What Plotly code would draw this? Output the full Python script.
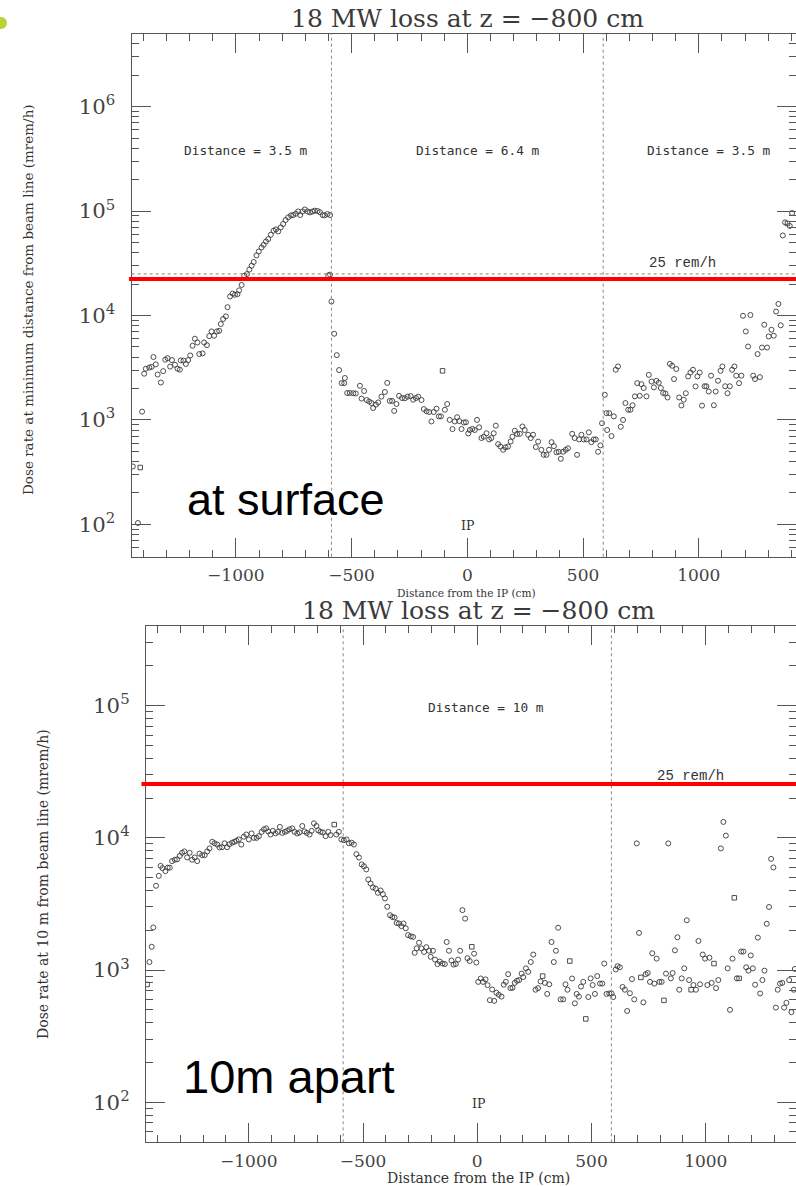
import plotly.graph_objects as go

# ---------------- data ----------------
top_x = [-1445,-1423,-1405,-1396,-1389,-1374,-1364,-1356,-1346,-1338,-1324,-1314,-1305,-1295,-1284,-1276,-1263,-1252,-1242,-1238,
         -1226,-1216,-1206,-1197,-1187,-1177,-1166,-1158,-1144,-1137,-1125,-1115,-1105,-1094,-1082,-1072,-1065,-1055,-1043,-1036,
         -1025,-1014,-1004,-993,-986,-975,-964,-952,-942,-932,-923,-911,-901,-889,-880,-870,-860,-849,-837,-827,
         -817,-806,-796,-785,-774,-762,-752,-741,-731,-722,-712,-702,-690,-680,-669,-659,-647,-637,-625,-616,
         -604,-593,-601,-593,-587,-575,-564,-554,-543,-532,-529,-519,-508,-493,-482,-464,-457,-446,-435,-424,
         -414,-407,-395,-385,-371,-356,-346,-335,-325,-316,-306,-295,-282,-270,-258,-245,-234,-222,-212,-198,
         -188,-176,-165,-155,-145,-133,-123,-114,-97,-87,-76,-64,-54,-44,-35,-25,-15,-6,4,11,
         22,32,42,51,61,71,83,94,104,114,123,133,143,155,165,176,187,195,205,215,
         227,238,248,263,274,284,296,306,320,330,342,353,364,374,385,395,404,414,425,435,
         453,464,474,483,493,503,515,525,536,546,555,565,575,582,594,601,604,613,623,633,
         641,651,663,673,683,695,705,714,724,734,745,752,762,774,784,796,806,817,827,836,
         846,856,865,875,885,893,903,915,925,935,944,954,964,975,986,994,1004,1014,1025,1033,
         1043,1053,1065,1073,1083,1094,1102,1114,1124,1134,1144,1154,1162,1174,1184,1191,1203,1213,1223,1235,
         1243,1254,1264,1273,1283,1295,1302,1314,1324,1334,1344,1354,1363,1373,1393,1403]
top_y = [358,103,1200,2770,3090,3170,3220,4000,3400,2720,2280,2930,3770,3900,3240,3740,3370,3090,3030,3710,
         3700,3430,3740,4140,5130,5990,5510,4270,4330,5510,5200,6340,7030,6390,7030,7130,8280,9250,9800,12000,
         15200,16200,15800,16000,17400,19600,24000,24900,27500,29900,32500,37600,41000,44800,47500,51100,53900,59300,64800,66700,
         63800,69700,75100,82000,87000,90800,91500,94200,99100,91500,99000,103500,99000,97000,99000,100800,100000,97500,91500,90800,
         93600,91500,24200,24600,13600,6680,4170,3000,2250,2250,2520,1810,1810,1800,1790,2120,1600,1890,1550,1500,
         1450,1300,1400,1470,1670,1850,2260,1520,1520,1220,1420,1700,1620,1610,1670,1690,1560,1620,1670,1550,
         1270,1210,1190,966,1190,1280,1080,1080,1250,1420,1000,817,966,1060,975,817,944,950,742,800,
         820,800,1000,850,670,690,745,650,670,745,880,586,556,517,545,556,621,690,787,734,
         735,865,800,720,670,720,550,620,517,463,463,517,612,560,490,495,424,495,517,535,
         736,670,463,650,720,650,650,760,612,650,650,495,570,930,1740,1160,800,1160,700,1080,
         3020,3250,860,1000,1450,1250,1250,1380,1680,2250,1700,2200,2020,1680,2700,2330,2050,2370,2270,2020,
         1810,1790,1640,3440,3300,2460,3070,1640,1375,1560,1800,2610,2840,3020,2090,2610,2840,1370,2100,2100,
         1870,2650,1380,1870,2370,2950,3250,2100,1800,2100,3020,3250,2650,2250,2650,9930,7030,5040,10100,2650,
         2460,4270,2570,4930,8150,4930,6300,7300,6400,10900,12900,8050,58400,77900,72000,95700]
top_sq_x = [-1413, -107, 1383]
top_sq_y = [350, 2950, 76000]

bot_x = [-1435,-1425,-1418,-1406,-1394,-1386,-1378,-1365,-1355,-1346,-1336,-1324,-1314,-1302,-1292,-1282,-1270,-1259,-1248,-1237,
         -1226,-1216,-1204,-1193,-1182,-1172,-1160,-1150,-1138,-1128,-1117,-1106,-1095,-1085,-1073,-1063,-1054,-1044,-1033,-1022,
         -1011,-1000,-988,-978,-966,-956,-944,-934,-924,-915,-905,-895,-883,-873,-864,-854,-842,-832,-822,-810,
         -800,-788,-778,-766,-756,-746,-734,-725,-715,-704,-696,-686,-676,-664,-652,-642,-617,-606,-595,-584,
         -572,-562,-550,-540,-529,-518,-506,-496,-486,-477,-467,-457,-445,-435,-423,-413,-404,-394,-382,-372,
         -362,-353,-343,-332,-323,-313,-303,-291,-281,-274,-265,-255,-245,-233,-223,-211,-204,-194,-185,-174,
         -164,-152,-142,-134,-124,-113,-104,-94,-84,-75,-65,-53,-43,-33,-14,-4,4,15,25,36,
         45,55,65,74,84,94,106,116,125,135,145,154,164,174,183,194,201,213,223,234,
         245,255,266,277,296,306,315,325,335,344,354,365,376,386,395,415,427,435,445,454,
         464,486,496,505,515,525,537,547,556,566,578,588,595,606,614,624,636,646,656,668,
         677,687,698,708,727,737,746,756,766,775,785,797,807,826,836,847,855,865,876,884,
         895,906,917,927,946,957,968,975,987,997,1007,1016,1026,1045,1055,1066,1077,1088,1096,1106,
         1117,1136,1155,1165,1177,1187,1197,1206,1216,1228,1238,1248,1257,1267,1277,1286,1296,1307,1315,1325,
         1335,1343,1353,1365,1375,1385,1390]
bot_y = [1150,1500,2100,4340,5160,6140,5900,5600,5950,5950,6670,6830,6880,7310,7710,7900,7110,7710,6830,7110,
         6670,7600,7400,7400,7900,8320,9340,9100,8900,8460,8500,9100,8500,8950,9200,9340,9500,9730,8900,10200,
         10600,9730,10800,10000,10000,10300,11100,11600,11800,11200,10600,11300,10800,11100,12100,10900,11100,11300,11600,11800,
         11100,10800,11000,12300,11200,10900,10600,11300,12900,12300,11400,11100,11000,10300,11100,10500,10600,11100,9730,9600,
         9730,9100,9200,8900,7530,7100,6300,6100,5770,4840,4520,4220,4130,3840,4000,3750,3480,3010,2600,2520,
         2500,2270,2250,2150,2250,2070,1840,1800,1780,1350,1460,1610,1460,1370,1490,1400,1260,1400,1200,1110,
         1160,1120,1110,1630,1400,1180,1100,1110,1200,1400,2840,2450,1230,1170,1330,1140,814,863,814,850,
         769,592,713,585,673,650,630,775,814,931,730,735,800,830,840,940,885,1030,970,1150,
         1310,710,730,820,800,660,780,1630,1150,1400,2090,600,600,780,710,863,560,660,630,750,
         814,625,865,770,660,900,790,790,1120,660,665,665,625,1010,1070,1050,745,710,490,668,
         855,600,9080,1910,570,930,950,814,1340,790,1220,814,814,940,9080,865,950,1410,1770,710,
         865,1030,2380,840,770,710,1660,780,1310,1220,770,1240,800,730,840,8320,13200,10400,1030,500,
         1220,865,1380,1380,1050,990,1290,1030,775,1760,665,840,990,2240,3000,6930,5970,520,710,790,
         800,520,565,840,480,710,1020]
bot_sq_x = [-1445, -626, -24, 286, 405, 475, 716, 817, 936, 1036, 1125, 1146]
bot_sq_y = [778, 12600, 1500, 900, 1170, 427, 880, 590, 710, 1120, 3520, 865]

region_edges = [-587, 587]          # dotted separators (cm)
limit_dose = 25000                  # 25 rem/h in mrem/h
red_top = 22400                     # red threshold line, top panel
red_bot = 25500                     # red threshold line, bottom panel
x_range = [-1450, 1420]
x_range_bot = [-1450, 1395]
y_range_top = [1.69, 6.70]          # log10
y_range_bot = [1.697, 5.605]        # log10

# ---------------- layout helpers ----------------
W, H = 796, 1187
def PX(x): return x / W
def PY(y): return 1 - y / H

MARK = "#3a3a3a"
AX = "#555555"
SERIF = "DejaVu Serif"
MONO = "DejaVu Sans Mono"

fig = go.Figure()
mk_c = dict(symbol="circle-open", size=5, color=MARK, line=dict(width=0.9, color=MARK))
mk_s = dict(symbol="square-open", size=4.5, color=MARK, line=dict(width=0.9, color=MARK))
fig.add_trace(go.Scatter(x=top_x, y=top_y, mode="markers", marker=mk_c, xaxis="x", yaxis="y", showlegend=False))
fig.add_trace(go.Scatter(x=top_sq_x, y=top_sq_y, mode="markers", marker=mk_s, xaxis="x", yaxis="y", showlegend=False))
fig.add_trace(go.Scatter(x=bot_x, y=bot_y, mode="markers", marker=mk_c, xaxis="x2", yaxis="y2", showlegend=False))
fig.add_trace(go.Scatter(x=bot_sq_x, y=bot_sq_y, mode="markers", marker=mk_s, xaxis="x2", yaxis="y2", showlegend=False))

def xaxis(domain, rng, anchor):
    return dict(domain=domain, range=rng, anchor=anchor, showgrid=False, zeroline=False,
                showline=True, linecolor=AX, linewidth=1, mirror="ticks",
                ticks="inside", ticklen=19, tickwidth=1, tickcolor=AX,
                tickmode="linear", tick0=0, dtick=500,
                minor=dict(ticks="inside", ticklen=7, tickwidth=1, tickcolor=AX, dtick=100, showgrid=False),
                tickfont=dict(family=SERIF, size=17, color="#444"), ticklabelstandoff=3)

def yaxis(domain, rng, anchor):
    return dict(domain=domain, range=rng, anchor=anchor, type="log", showgrid=False, zeroline=False,
                showline=True, linecolor=AX, linewidth=1, mirror="ticks",
                ticks="inside", ticklen=19, tickwidth=1, tickcolor=AX,
                dtick=1, exponentformat="power",
                minor=dict(ticks="inside", ticklen=7, tickwidth=1, tickcolor=AX, dtick="D1", showgrid=False),
                tickfont=dict(family=SERIF, size=17, color="#444"), ticklabelstandoff=12)

top_xd = [PX(131.7), 1.0]
top_yd = [PY(556.7), PY(33.5)]
bot_xd = [PX(146), 1.0]
bot_yd = [PY(1142.3), PY(625.7)]

fig.update_layout(
    width=W, height=H, margin=dict(l=0, r=0, t=0, b=0),
    paper_bgcolor="white", plot_bgcolor="white",
    xaxis=xaxis(top_xd, x_range, "y"),
    yaxis=yaxis(top_yd, y_range_top, "x"),
    xaxis2=xaxis(bot_xd, x_range_bot, "y2"),
    yaxis2=yaxis(bot_yd, y_range_bot, "x2"),
)

shapes = []
for xr, yr in (("x", "y"), ("x2", "y2")):
    for xe in region_edges:
        shapes.append(dict(type="line", xref=xr, yref=yr + " domain", x0=xe, x1=xe, y0=0, y1=1,
                           line=dict(color="#888", width=1, dash="dot")))
    shapes.append(dict(type="line", xref=xr + " domain", yref=yr, x0=0, x1=1, y0=limit_dose, y1=limit_dose,
                       line=dict(color="#888", width=1, dash="dot")))
shapes.append(dict(type="line", xref="paper", yref="y", x0=PX(129), x1=1, y0=red_top, y1=red_top,
                   line=dict(color="#ff0000", width=4)))
shapes.append(dict(type="line", xref="paper", yref="y2", x0=PX(141.5), x1=1, y0=red_bot, y1=red_bot,
                   line=dict(color="#ff0000", width=4)))
# slide bullet remnant
shapes.append(dict(type="circle", xref="paper", yref="paper", x0=PX(-5), x1=PX(7), y0=PY(29), y1=PY(17),
                   fillcolor="#b8d433", line=dict(width=0)))
fig.update_layout(shapes=shapes)

def ann(text, x, y, size, family, color="#333", angle=0):
    return dict(text=text, x=PX(x), y=PY(y), xref="paper", yref="paper", showarrow=False,
                xanchor="center", yanchor="middle", textangle=angle,
                font=dict(family=family, size=size, color=color))

anns = [
    ann("18 MW loss at z = \u2212800 cm", 467.5, 18, 25, SERIF, "#3a3a3a"),
    ann("18 MW loss at z = \u2212800 cm", 478.5, 611, 25, SERIF, "#3a3a3a"),
    ann("Distance = 3.5 m", 246, 150, 12.8, MONO),
    ann("Distance = 6.4 m", 478, 150, 12.8, MONO),
    ann("Distance = 3.5 m", 709, 150, 12.8, MONO),
    ann("Distance = 10 m", 486, 707, 12.8, MONO),
    ann("25 rem/h", 682, 263, 14, "Liberation Mono"),
    ann("25 rem/h", 690, 776, 14, "Liberation Mono"),
    ann("IP", 467, 526, 12.5, SERIF),
    ann("IP", 478, 1103, 12.5, SERIF),
    ann("Distance from the IP (cm)", 466, 593, 10.6, SERIF),
    ann("Distance from the IP (cm)", 478, 1178, 14, SERIF),
    ann("Dose rate at minimum distance from beam line (mrem/h)", 28, 300, 13.5, SERIF, angle=-90),
    ann("Dose rate at 10 m from beam line (mrem/h)", 43, 884, 14, SERIF, angle=-90),
    ann("at surface", 285.5, 500, 45, "Liberation Sans", "#000"),
    ann("10m apart", 289, 1076, 47, "Liberation Sans", "#000"),
]
fig.update_layout(annotations=anns)

fig.write_html("out.html")
